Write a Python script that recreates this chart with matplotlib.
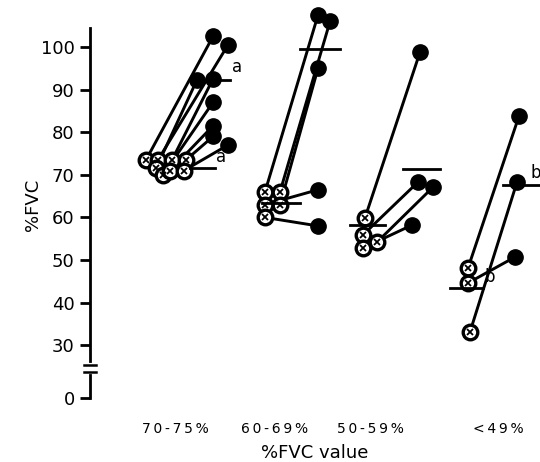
import numpy as np
import matplotlib
matplotlib.use("Agg")
import matplotlib.pyplot as plt

# %FVC before (open) and after (filled), per group
groups = ["70-75%", "60-69%", "50-59%", "<49%"]
pre_70 = [73.5, 73.5, 71.5, 73.5, 70.0, 71.0, 73.5, 71.0]
post_70 = [102.5, 100.5, 92.3, 92.5, 87.0, 81.5, 79.0, 77.0]
pre_60 = [66.0, 66.0, 63.0, 63.0, 60.0]
post_60 = [107.5, 106.0, 95.0, 66.5, 58.0]
pre_50 = [59.9, 55.9, 54.2, 52.8]
post_50 = [98.8, 68.3, 67.1, 58.2]
pre_49 = [48.1, 33.1, 44.6]
post_49 = [83.8, 68.3, 50.7]
mean_pre = [71.5, 63.5, 58.2, 43.4]
mean_post = [92.3, 99.5, 71.4, 67.6]
mark_pre = ["a", "", "", "b"]
mark_post = ["a", "", "", "b"]
yticks = [0, 30, 40, 50, 60, 70, 80, 90, 100]

pre = [pre_70, pre_60, pre_50, pre_49]
post = [post_70, post_60, post_50, post_49]

# layout (pixel-like x units)
pre_x = [166, 272, 366, 469]
post_x = [214, 320, 422, 517]
label_x = [175, 275, 370, 498]
pre_jit = [[-20, -8, -10, 6, -3, 4, 20, 18], [-7, 8, 8, -7, -7], [-1, -3, 11, -3], [-1, 1, -1]]
post_jit = [[-1, 14, -17, -1, -1, -1, -1, 14], [-2, 10, -2, -2, -2], [-2, -4, 11, -10], [2, 0, -2]]
pre_bar = [(24, 49), (-10, 28), (-16, 19), (-19, 14)]
post_bar = [(-14, 16), (-20, 20), (-19, 18), (-14, 23)]
post_mark_dx = [2, 0, 0, -10]
ZERO = 17.6  # where the "0" sits after the axis break

fig = plt.figure(figsize=(5.4, 4.62), dpi=100)
ax = fig.add_axes([90 / 540, (462 - 398) / 462, 450 / 540, 388 / 462])
ax.set_xlim(90, 540)
ax.set_ylim(ZERO, 108.7)

for i in range(len(groups)):
    bx = pre_x[i] + np.array(pre_jit[i])
    axx = post_x[i] + np.array(post_jit[i])
    for x0, y0, x1, y1 in zip(bx, pre[i], axx, post[i]):
        ax.plot([x0, x1], [y0, y1], color="black", lw=2.1, zorder=2, clip_on=False)
    ax.plot(bx, pre[i], "o", ms=10.5, mfc="white", mec="black", mew=2.4, zorder=3, clip_on=False)
    ax.plot(bx, pre[i], "x", ms=4, mec="black", mew=1.3, zorder=4, clip_on=False)
    ax.plot(axx, post[i], "o", ms=11, color="black", zorder=3, clip_on=False)
    ax.plot([pre_x[i] + pre_bar[i][0], pre_x[i] + pre_bar[i][1]], [mean_pre[i]] * 2,
            color="black", lw=2, zorder=5, clip_on=False)
    ax.plot([post_x[i] + post_bar[i][0], post_x[i] + post_bar[i][1]], [mean_post[i]] * 2,
            color="black", lw=2, zorder=5, clip_on=False)
    if mark_pre[i]:
        ax.text(pre_x[i] + pre_bar[i][1] + 1, mean_pre[i] + 0.6, mark_pre[i],
                fontsize=12, ha="left", va="bottom")
    if mark_post[i]:
        ax.text(post_x[i] + post_bar[i][1] + post_mark_dx[i], mean_post[i] + 0.8, mark_post[i],
                fontsize=12, ha="left", va="bottom", clip_on=False)

# y axis with break
ax.set_yticks([ZERO] + yticks[1:])
ax.set_yticklabels([str(t) for t in yticks], fontsize=13)
ax.spines["left"].set_bounds(ZERO, 104.5)
ax.spines["left"].set_linewidth(2)
for s in ["top", "right", "bottom"]:
    ax.spines[s].set_visible(False)
ax.tick_params(axis="y", length=7, width=2, pad=4)
for yb in [25.3, 23.6]:
    ax.plot([84, 96], [yb, yb], color="black", lw=1.8, clip_on=False, zorder=6)
ax.plot([90, 90], [23.6, 25.3], color="white", lw=3, clip_on=False, zorder=5)

ax.set_xticks(label_x)
ax.set_xticklabels(["\u2009".join(g) for g in groups], fontsize=10)
ax.tick_params(axis="x", length=0, pad=17)
ax.set_xlabel("%FVC value", fontsize=13, labelpad=6)
fig.text(33 / 540, 1 - 205 / 462, "%FVC", rotation=90, fontsize=13, ha="center", va="center")

fig.savefig("out.png", dpi=100)
